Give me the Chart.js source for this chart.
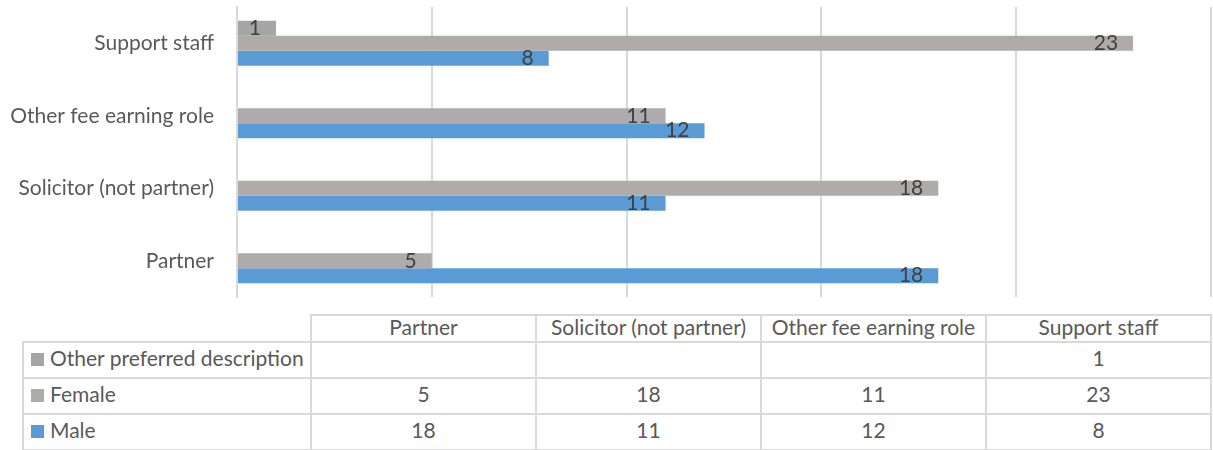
<!DOCTYPE html>
<html>
<head>
<meta charset="utf-8">
<script src="https://cdn.jsdelivr.net/npm/chart.js@4"></script>
<style>
    body { margin: 0; background: #fff; font-family: Lato, "Open Sans", sans-serif; }
    #wrap { position: relative; width: 1213px; height: 450px; }
    #chartBox { position: absolute; left: 0; top: 0; width: 1213px; height: 300px; }
    #dataTable {
        position: absolute; left: 22px; top: 314px; width: 1190px;
        border-collapse: collapse; table-layout: fixed;
        font-size: 21px; line-height: 24px; color: #595959;
    }
    #dataTable td { border: 2px solid #d9d9d9; text-align: center; padding: 0; }
    #dataTable td span.t { position: relative; top: -2px; }
    #dataTable tr.head td { height: 25px; }
    #dataTable tr.row td { height: 34px; }
    #dataTable td.corner { border: none; }
    #dataTable td.name { text-align: left; padding-left: 7px; white-space: nowrap; }
    .key { display: inline-block; width: 13px; height: 13px; margin-right: 6px; vertical-align: 0px; }
</style>
</head>
<body>
<div id="wrap">
    <div id="chartBox"><canvas id="barChart"></canvas></div>
    <table id="dataTable">
        <colgroup>
            <col style="width:288px"><col><col><col><col>
        </colgroup>
        <tbody id="tableBody"></tbody>
    </table>
</div>
<script>
const categories = ['Partner', 'Solicitor (not partner)', 'Other fee earning role', 'Support staff'];
const maleCounts = [18, 11, 12, 8];
const femaleCounts = [5, 18, 11, 23];
const otherCounts = [null, null, null, 1];

const seriesNames = ['Other preferred description', 'Female', 'Male'];
const seriesColors = ['#a5a5a5', '#afabab', '#5b9bd5'];
const seriesData = [otherCounts, femaleCounts, maleCounts];

const textColor = '#595959';
const gridColor = '#d9d9d9';
const fontFamily = 'Lato, "Open Sans", sans-serif';

// value labels just inside the bar ends
const barLabels = {
    id: 'barLabels',
    afterDatasetsDraw(chart) {
        const ctx = chart.ctx;
        ctx.save();
        ctx.font = '21px ' + fontFamily;
        ctx.fillStyle = '#404040';
        ctx.textAlign = 'right';
        ctx.textBaseline = 'middle';
        chart.data.datasets.forEach((ds, i) => {
            const meta = chart.getDatasetMeta(i);
            meta.data.forEach((bar, j) => {
                const v = ds.data[j];
                if (v === null || v === undefined) return;
                ctx.fillText(String(v), bar.x - 15, bar.y);
            });
        });
        ctx.restore();
    }
};

const barChart = new Chart(document.getElementById('barChart').getContext('2d'), {
    type: 'bar',
    data: {
        labels: categories,
        datasets: seriesNames.map((name, i) => ({
            label: name,
            data: seriesData[i],
            backgroundColor: seriesColors[i],
            borderWidth: 0,
            barPercentage: 1,
            categoryPercentage: 0.62
        }))
    },
    options: {
        indexAxis: 'y',
        responsive: true,
        maintainAspectRatio: false,
        animation: false,
        layout: { padding: { top: 7, bottom: 3, right: 2, left: 0 } },
        plugins: {
            legend: { display: false },
            tooltip: { enabled: false }
        },
        scales: {
            x: {
                min: 0,
                max: 25,
                ticks: { stepSize: 5, display: false },
                grid: { color: gridColor, lineWidth: 2, drawTicks: false },
                border: { display: false }
            },
            y: {
                reverse: true,
                afterFit: (scale) => {
                    scale.width = 237;
                    scale.paddingTop = 0;
                    scale.paddingBottom = 0;
                },
                ticks: {
                    color: textColor,
                    padding: 23,
                    font: { size: 21, family: fontFamily }
                },
                grid: { display: false, drawTicks: false },
                border: { display: true, color: gridColor, width: 2 }
            }
        }
    },
    plugins: [barLabels]
});

// data table under the chart
const tbody = document.getElementById('tableBody');
let html = '<tr class="head"><td class="corner"></td>';
categories.forEach(c => { html += '<td><span class="t">' + c + '</span></td>'; });
html += '</tr>';
seriesNames.forEach((name, i) => {
    html += '<tr class="row"><td class="name"><span class="t"><span class="key" style="background:' + seriesColors[i] + '"></span>' + name + '</span></td>';
    seriesData[i].forEach(v => { html += '<td><span class="t">' + (v === null ? '' : v) + '</span></td>'; });
    html += '</tr>';
});
tbody.innerHTML = html;
</script>
</body>
</html>
